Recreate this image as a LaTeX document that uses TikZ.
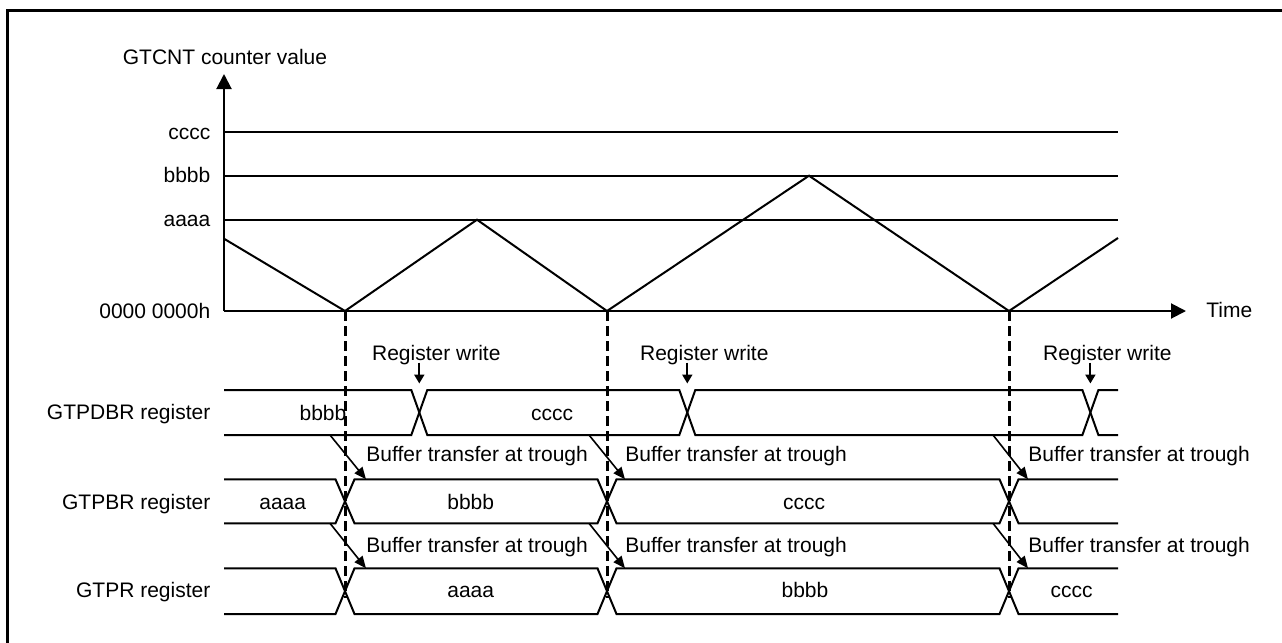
\documentclass[tikz,border=0pt]{standalone}
\usepackage{fontspec}
\setmainfont{Liberation Sans}
\usetikzlibrary{arrows.meta}

\begin{document}
\begin{tikzpicture}[x=0.5pt, y=-0.5pt, >={Triangle[length=7.5pt,width=7.5pt]},
    every node/.style={font=\fontsize{10.5}{12}\selectfont, inner sep=0pt},
    bus/.style={line width=1pt},
    lvl/.style={line width=1pt},
    trough/.style={line width=1.5pt, dash pattern=on 5pt off 2.5pt},
    xfer/.style={line width=0.8pt, -{Triangle[length=6pt,width=5pt]}},
    wrarrow/.style={line width=1pt, -{Triangle[length=4.5pt,width=5pt]}},
    rowlbl/.style={anchor=base east},
    val/.style={anchor=base}]

    \useasboundingbox (0,0) rectangle (1282,643);
    \begin{scope}
        \clip (0,0) rectangle (1282,643);
        \draw[line width=1.5pt] (7.5,10.5) rectangle (1300,660);
    \end{scope}

    % Counter axes
    \coordinate (o) at (224,311);
    \coordinate (ytop) at (224,74);
    \coordinate (xend) at (1186,311);
    \draw[lvl,->] (o) -- (ytop);
    \draw[lvl,->] (o) -- (xend);
    \node[val] (ylabel) at (225,64) {GTCNT counter value};
    \node[anchor=base west] (time) at (1206,317.7) {Time};
    \node[rowlbl] (lvzero) at (210.7,318) {0000 0000h};

    \foreach \v/\y in {cccc/132.3, bbbb/175.7, aaaa/219.7} {
        \node[rowlbl] (lv\v) at (210.7,\y+7) {\v};
        \draw[lvl] (224,\y) -- (1118,\y);
    }

    % Counter waveform
    \draw[lvl] (224,238.7) -- (345,311) -- (477,219.7) -- (607,311) -- (809,175.7) -- (1009,311) -- (1118,238);

    % Troughs
    \foreach \x in {345,607,1009}
        \draw[trough] (\x,311) -- (\x,598);

    % Registers
    \node[rowlbl] (pdbr) at (210.7,419.5) {GTPDBR register};
    \node[rowlbl] (pbr) at (210.7,509) {GTPBR register};
    \node[rowlbl] (pr) at (210.7,597) {GTPR register};

    \draw[bus] (224,390) -- (411.3,390) -- (427.3,435) -- (679.3,435) -- (695.3,390) -- (1082.4,390) -- (1098.4,435) -- (1118,435);
    \draw[bus] (224,435) -- (411.3,435) -- (427.3,390) -- (679.3,390) -- (695.3,435) -- (1082.4,435) -- (1098.4,390) -- (1118,390);

    \draw[bus] (224,479.3) -- (335.5,479.3) -- (354.5,523.3) -- (597.5,523.3) -- (616.5,479.3) -- (999.5,479.3) -- (1018.5,523.3) -- (1118,523.3);
    \draw[bus] (224,523.3) -- (335.5,523.3) -- (354.5,479.3) -- (597.5,479.3) -- (616.5,523.3) -- (999.5,523.3) -- (1018.5,479.3) -- (1118,479.3);

    \draw[bus] (224,568.3) -- (335.5,568.3) -- (354.5,614) -- (597.5,614) -- (616.5,568.3) -- (999.5,568.3) -- (1018.5,614) -- (1118,614);
    \draw[bus] (224,614) -- (335.5,614) -- (354.5,568.3) -- (597.5,568.3) -- (616.5,614) -- (999.5,614) -- (1018.5,568.3) -- (1118,568.3);

    \node[val] (pdbr1) at (323,420) {bbbb};
    \node[val] (pdbr2) at (552,420) {cccc};
    \node[val] (pbr1) at (282.7,509.5) {aaaa};
    \node[val] (pbr2) at (470.7,509.5) {bbbb};
    \node[val] (pbr3) at (804,509.5) {cccc};
    \node[val] (pr1) at (470.7,597.3) {aaaa};
    \node[val] (pr2) at (805,597.3) {bbbb};
    \node[val] (pr3) at (1071.6,597.3) {cccc};

    % Register writes
    \foreach \x/\n in {419.3/1, 687.3/2, 1090.4/3} {
        \node[val] (wr\n) at (\x+17,360) {Register write};
        \coordinate (wrs\n) at (\x,362.5);
        \coordinate (wre\n) at (\x,383.5);
        \draw[wrarrow] (wrs\n) -- (wre\n);
    }

    % Buffer transfers
    \foreach \a/\b/\n in {330/366/1, 589/625/2, 993/1028/3} {
        \coordinate (bs\n) at (\a,435);
        \coordinate (be\n) at (\b,479.3);
        \draw[xfer] (bs\n) -- (be\n);
        \node[anchor=base west] (bt\n) at (\b,461.7) {Buffer transfer at trough};
        \coordinate (cs\n) at (\a,523.3);
        \coordinate (ce\n) at (\b,568.3);
        \draw[xfer] (cs\n) -- (ce\n);
        \node[anchor=base west] (ct\n) at (\b,552.7) {Buffer transfer at trough};
    }
\end{tikzpicture}
\end{document}
